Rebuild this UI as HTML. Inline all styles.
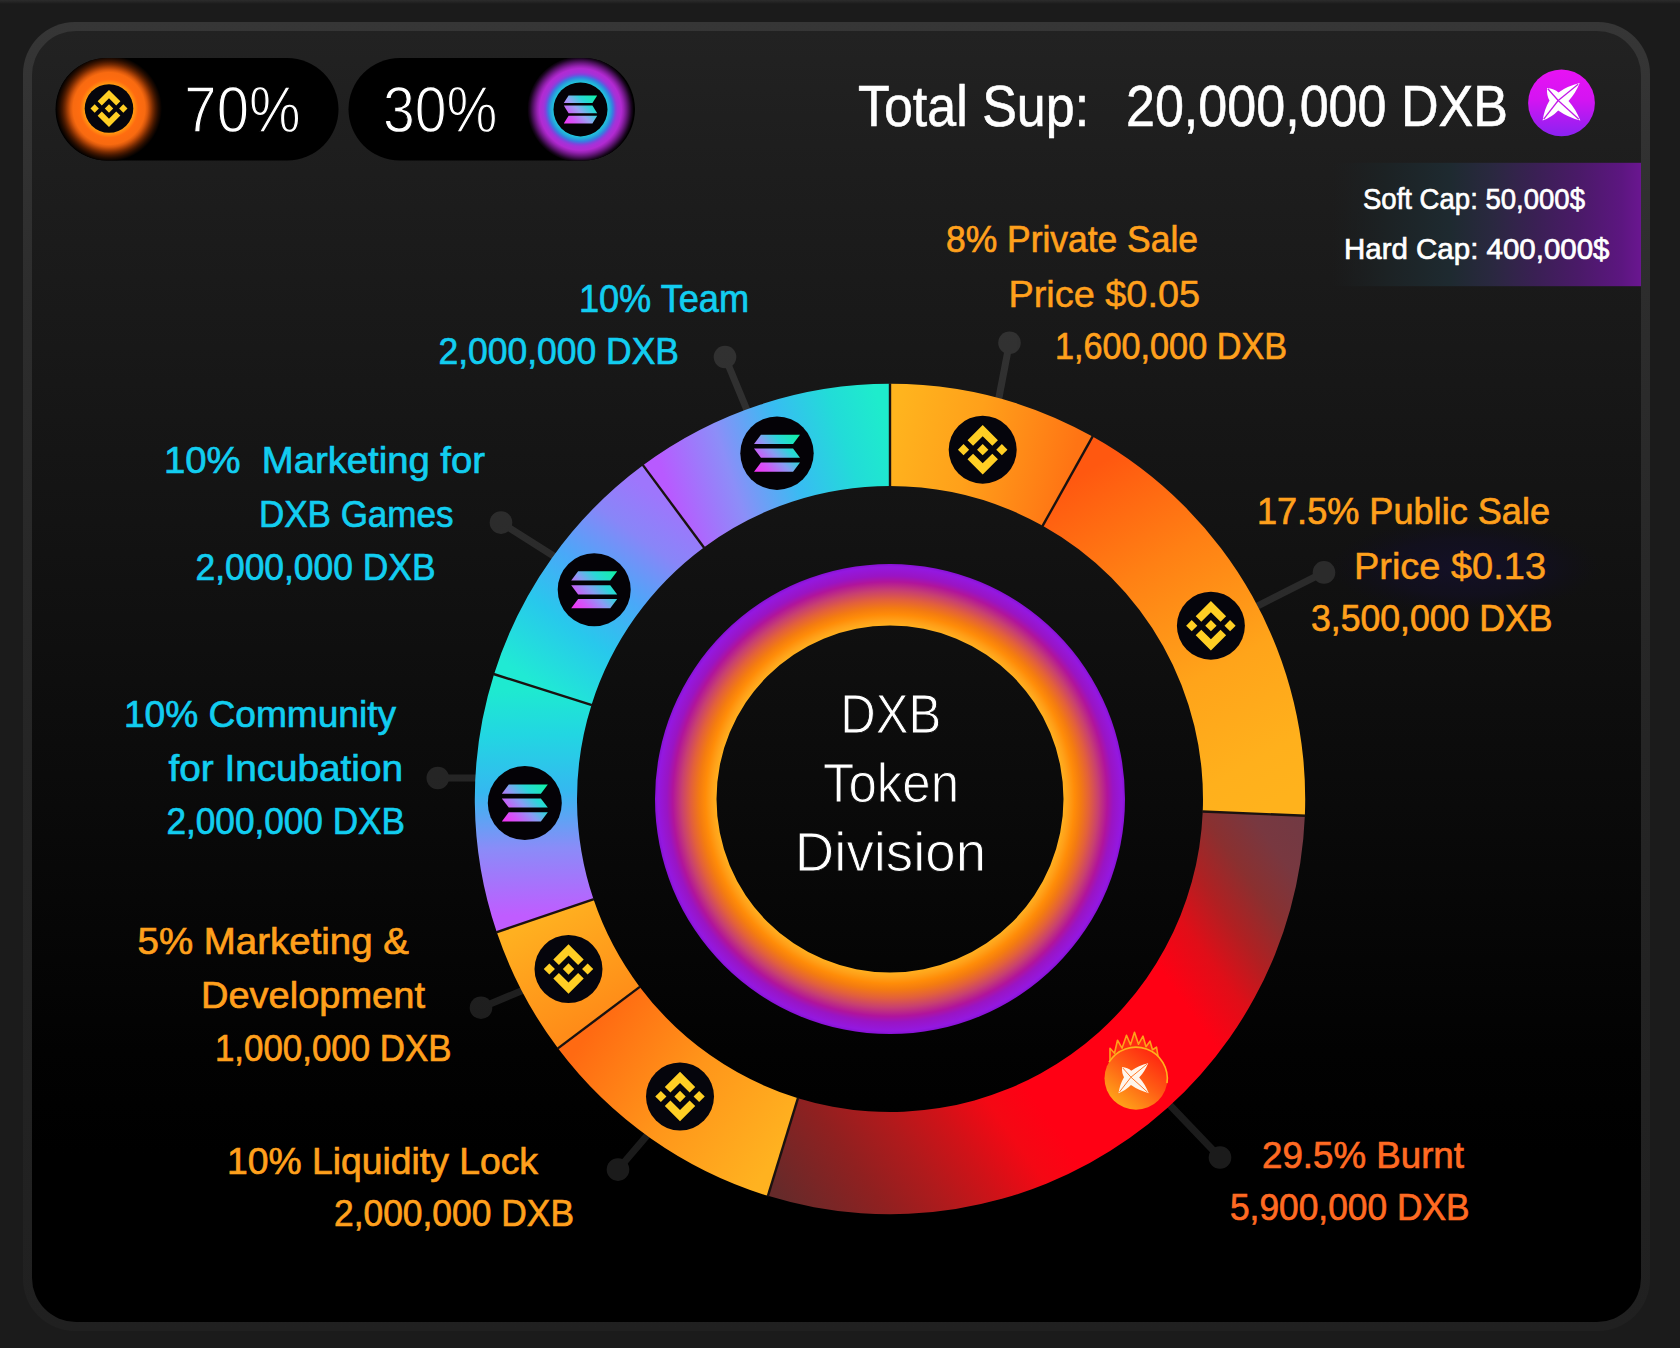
<!DOCTYPE html>
<html lang="en"><head><meta charset="utf-8"><title>DXB Token Division</title>
<style>
html,body{margin:0;padding:0}
body{width:1680px;height:1348px;overflow:hidden;position:relative;background:#1b1b1b;font-family:"Liberation Sans",Arial,sans-serif}
.top{position:absolute;left:0;top:0;width:1680px;height:4px;background:linear-gradient(#2c2c2c,#1b1b1b)}
.frame{position:absolute;left:23px;top:22px;width:1627px;height:1309px;border-radius:52px;background:linear-gradient(#363636 0%,#2d2d2d 20%,#252525 55%,#202020 100%)}
.panel{position:absolute;left:32px;top:31px;width:1609px;height:1291px;border-radius:44px;background:linear-gradient(#222 0%,#1d1d1d 11%,#131313 38%,#0a0a0a 60%,#020202 79%,#000 87%)}
svg{position:absolute;left:0;top:0}
text{font-family:"Liberation Sans",Arial,sans-serif;white-space:pre}
</style></head><body>
<div class="top"></div><div class="frame"></div><div class="panel"></div>
<svg width="1680" height="1348" viewBox="0 0 1680 1348">
<defs>
<linearGradient id="gpr" gradientUnits="userSpaceOnUse" x1="890" y1="434.9" x2="1067.63" y2="481.17"><stop offset="0" stop-color="#ffb41e"/><stop offset="0.45" stop-color="#ffa01a"/><stop offset="1" stop-color="#ff7414"/></linearGradient>
<linearGradient id="gpu" gradientUnits="userSpaceOnUse" x1="1067.63" y1="481.17" x2="1253.81" y2="813.61"><stop offset="0" stop-color="#ff5810"/><stop offset="0.3" stop-color="#ff8014"/><stop offset="0.62" stop-color="#ffa41a"/><stop offset="0.88" stop-color="#ffb01c"/><stop offset="1" stop-color="#ffb21c"/></linearGradient>
<linearGradient id="gbu" gradientUnits="userSpaceOnUse" x1="1347" y1="858" x2="813" y2="1242"><stop offset="0" stop-color="#703a44"/><stop offset="0.08" stop-color="#783840"/><stop offset="0.14" stop-color="#8a3030"/><stop offset="0.2" stop-color="#b02022"/><stop offset="0.26" stop-color="#e00e18"/><stop offset="0.33" stop-color="#ff0014"/><stop offset="0.6" stop-color="#ff0014"/><stop offset="0.66" stop-color="#f40814"/><stop offset="0.73" stop-color="#d01218"/><stop offset="0.8" stop-color="#b01a1c"/><stop offset="0.88" stop-color="#902020"/><stop offset="1" stop-color="#662a2a"/></linearGradient>
<linearGradient id="gli" gradientUnits="userSpaceOnUse" x1="782.94" y1="1147" x2="598.83" y2="1017.61"><stop offset="0" stop-color="#ffb220"/><stop offset="0.5" stop-color="#ff961a"/><stop offset="1" stop-color="#ff6a12"/></linearGradient>
<linearGradient id="gmd" gradientUnits="userSpaceOnUse" x1="598.83" y1="1017.61" x2="545.12" y2="915.74"><stop offset="0" stop-color="#ff8c18"/><stop offset="1" stop-color="#ffb020"/></linearGradient>
<linearGradient id="gco" gradientUnits="userSpaceOnUse" x1="545.12" y1="915.74" x2="542.75" y2="689.51"><stop offset="0" stop-color="#c05cff"/><stop offset="0.3" stop-color="#8a8cf8"/><stop offset="0.55" stop-color="#35b8f0"/><stop offset="0.8" stop-color="#22d6e2"/><stop offset="1" stop-color="#1eead0"/></linearGradient>
<linearGradient id="gmg" gradientUnits="userSpaceOnUse" x1="542.75" y1="689.51" x2="673.43" y2="506.32"><stop offset="0" stop-color="#20ead4"/><stop offset="0.3" stop-color="#28c8ec"/><stop offset="0.55" stop-color="#4aa8f8"/><stop offset="0.8" stop-color="#8886f8"/><stop offset="1" stop-color="#9e76fc"/></linearGradient>
<linearGradient id="gte" gradientUnits="userSpaceOnUse" x1="673.43" y1="506.32" x2="890" y2="434.9"><stop offset="0" stop-color="#b85aff"/><stop offset="0.28" stop-color="#8c8ef8"/><stop offset="0.55" stop-color="#38bcf2"/><stop offset="0.8" stop-color="#22dcd8"/><stop offset="1" stop-color="#1eeccc"/></linearGradient>
<radialGradient id="gring" gradientUnits="userSpaceOnUse" cx="890" cy="799" r="235.1"><stop offset="0.7367" stop-color="#ffb020"/><stop offset="0.7597" stop-color="#ffa018"/><stop offset="0.7848" stop-color="#ff8c08"/><stop offset="0.8103" stop-color="#f47c10"/><stop offset="0.8481" stop-color="#e2603c"/><stop offset="0.8860" stop-color="#c84070"/><stop offset="0.9243" stop-color="#b0149c"/><stop offset="0.9494" stop-color="#9a14c4"/><stop offset="0.9872" stop-color="#9418e0"/><stop offset="1.0000" stop-color="#8612d4"/></radialGradient>
<radialGradient id="gglowo" gradientUnits="userSpaceOnUse" cx="109" cy="108.5" r="53"><stop offset="0.453" stop-color="#ffa010"/><stop offset="0.49" stop-color="#ff8a10"/><stop offset="0.55" stop-color="#ff6c10"/><stop offset="0.68" stop-color="#f86a10"/><stop offset="0.73" stop-color="#d8580c"/><stop offset="0.78" stop-color="#a84006"/><stop offset="0.83" stop-color="#742a02"/><stop offset="0.88" stop-color="#481800"/><stop offset="0.93" stop-color="#240c00"/><stop offset="0.98" stop-color="#0a0300"/><stop offset="1" stop-color="#000"/></radialGradient>
<radialGradient id="gglowp" gradientUnits="userSpaceOnUse" cx="580.5" cy="109.4" r="53"><stop offset="0.51" stop-color="#22c4dc"/><stop offset="0.56" stop-color="#24a8dc"/><stop offset="0.61" stop-color="#3a7ae0"/><stop offset="0.66" stop-color="#8044dc"/><stop offset="0.7" stop-color="#a432d8"/><stop offset="0.77" stop-color="#b22ad2"/><stop offset="0.82" stop-color="#9422b0"/><stop offset="0.87" stop-color="#6c1882"/><stop offset="0.92" stop-color="#400e4e"/><stop offset="0.96" stop-color="#1c0622"/><stop offset="1" stop-color="#040004"/></radialGradient>
<linearGradient id="sg" gradientUnits="objectBoundingBox" x1="1" y1="0" x2="0" y2="1"><stop offset="0" stop-color="#14f1b0"/><stop offset="0.5" stop-color="#7aa0f0"/><stop offset="1" stop-color="#e63cf6"/></linearGradient>
<linearGradient id="sgs" gradientUnits="userSpaceOnUse" x1="15" y1="-14" x2="-15" y2="14"><stop offset="0" stop-color="#12f0a8"/><stop offset="0.3" stop-color="#2ad8d8"/><stop offset="0.55" stop-color="#9aa4f4"/><stop offset="0.8" stop-color="#d058f8"/><stop offset="1" stop-color="#f036f4"/></linearGradient>
<linearGradient id="sgu" gradientUnits="userSpaceOnUse" x1="20" y1="-18" x2="-20" y2="18"><stop offset="0" stop-color="#12f0a8"/><stop offset="0.3" stop-color="#2ad8d8"/><stop offset="0.55" stop-color="#8a9cf4"/><stop offset="0.8" stop-color="#d058f8"/><stop offset="1" stop-color="#f036f4"/></linearGradient>
<linearGradient id="gcap" gradientUnits="userSpaceOnUse" x1="1332" y1="0" x2="1641" y2="0"><stop offset="0" stop-color="#1c2022" stop-opacity="0"/><stop offset="0.174" stop-color="#1c2224"/><stop offset="0.382" stop-color="#1e2a30"/><stop offset="0.521" stop-color="#2a2840"/><stop offset="0.659" stop-color="#3a2054"/><stop offset="0.798" stop-color="#4a1a68"/><stop offset="0.937" stop-color="#5c1680"/><stop offset="1" stop-color="#6a1690"/></linearGradient>
<linearGradient id="gdxb" x1="0.5" y1="0" x2="0.5" y2="1"><stop offset="0" stop-color="#e812f4"/><stop offset="0.45" stop-color="#d414f2"/><stop offset="1" stop-color="#8a22f2"/></linearGradient>
<linearGradient id="gburn" x1="0.85" y1="0.1" x2="0.2" y2="0.95"><stop offset="0" stop-color="#ff2410"/><stop offset="0.45" stop-color="#ff5a14"/><stop offset="1" stop-color="#ffa81a"/></linearGradient>
<radialGradient id="gprice" cx="0.5" cy="0.5" r="0.5"><stop offset="0" stop-color="#14102a" stop-opacity="0.9"/><stop offset="0.6" stop-color="#120f24" stop-opacity="0.6"/><stop offset="1" stop-color="#100e1c" stop-opacity="0"/></radialGradient>
</defs>
<rect x="55.5" y="58" width="283" height="102.5" rx="51.25" fill="#000"/>
<rect x="348.5" y="58" width="286.5" height="102.5" rx="51.25" fill="#000"/>
<clipPath id="cp1"><rect x="55.5" y="58" width="283" height="102.5" rx="51.25"/></clipPath><clipPath id="cp2"><rect x="348.5" y="58" width="286.5" height="102.5" rx="51.25"/></clipPath>
<circle cx="109" cy="108.5" r="53" fill="url(#gglowo)" clip-path="url(#cp1)"/>
<circle cx="109" cy="108.5" r="24.3" fill="#05050c"/><g transform="translate(90.5 90) scale(0.2922)" fill="#ffcf24"><path d="m38.73 53.2 24.59-24.58 24.6 24.6 14.3-14.31-38.9-38.91-38.9 38.9z"/><path d="m0 63.31 14.3-14.31 14.31 14.31-14.31 14.3z"/><path d="m38.73 73.41 24.59 24.59 24.6-24.6 14.31 14.29-38.9 38.91-38.91-38.88z"/><path d="m98 63.31 14.3-14.31 14.31 14.3-14.31 14.32z"/><path d="m77.83 63.3-14.51-14.52-10.73 10.73-1.24 1.23-2.54 2.54 14.51 14.5 14.51-14.47z"/></g>
<circle cx="580.5" cy="109.4" r="53" fill="url(#gglowp)" clip-path="url(#cp2)"/>
<circle cx="580.5" cy="109.4" r="27" fill="#040206"/><g transform="translate(580.5 109.4)" fill="url(#sgs)"><path d="M-11.93 -14H16.7L11.93 -6.3H-16.7Z"/><path d="M-16.7 -3.85H11.93L16.7 3.85H-11.93Z"/><path d="M-11.93 6.3H16.7L11.93 14H-16.7Z"/></g>
<rect x="1332" y="162.8" width="309" height="123.4" fill="url(#gcap)"/>
<circle cx="1561.5" cy="102.9" r="33.4" fill="url(#gdxb)"/>
<g transform="translate(1561.5 102.9)"><path d="M-14.5 -15Q-7.11 -14.21 -3 -10.5Q6.22 -16.86 18.2 -19.8Q13.98 -9.19 7 -2Q14.43 6.22 18.9 17.7Q6.32 14.23 -3.3 7.5Q-9.36 13.95 -18.9 17.7Q-17.19 6.3 -12 -2.4Q-14.89 -7.24 -14.5 -15Z" fill="#fff"/><path d="M-3.3 -2.4L16.7 -18.58" stroke="#c418e8" stroke-width="1.25" fill="none"/><path d="M-3.3 -2.4L17.35 16.29" stroke="#c418e8" stroke-width="1.25" fill="none"/><path d="M-3.3 -2.4L-17.81 16.29" stroke="#c418e8" stroke-width="1.25" fill="none"/><path d="M-3.3 -2.4L-13.72 -14.12" stroke="#c418e8" stroke-width="1.25" fill="none"/></g>
<ellipse cx="1465" cy="567" rx="135" ry="48" fill="url(#gprice)"/>
<g opacity="0.105" fill="#fff" stroke="#fff" stroke-width="7"><path d="M1009.5 342.7L997.5 405"/><circle cx="1009.5" cy="342.7" r="11.3" stroke="none"/><path d="M1324 572.4L1250 609.8"/><circle cx="1324" cy="572.4" r="11.3" stroke="none"/><path d="M1220 1157.5L1165 1100"/><circle cx="1220" cy="1157.5" r="11.3" stroke="none"/><path d="M618 1169.6L650 1132"/><circle cx="618" cy="1169.6" r="11.3" stroke="none"/><path d="M481 1007.7L526 989"/><circle cx="481" cy="1007.7" r="11.3" stroke="none"/><path d="M437.8 778L485 778"/><circle cx="437.8" cy="778" r="11.3" stroke="none"/><path d="M501 522.6L556 557.5"/><circle cx="501" cy="522.6" r="11.3" stroke="none"/><path d="M725 357L749 415"/><circle cx="725" cy="357" r="11.3" stroke="none"/></g>
<path d="M890 383.8A415.2 415.2 0 0 1 1092.56 436.56L1042.7 525.78A313 313 0 0 0 890 486Z" fill="url(#gpr)"/>
<path d="M1092.56 436.56A415.2 415.2 0 0 1 1304.87 815.66L1202.75 811.56A313 313 0 0 0 1042.7 525.78Z" fill="url(#gpu)"/>
<path d="M1304.87 815.66A415.2 415.2 0 0 1 767.91 1195.85L797.97 1098.16A313 313 0 0 0 1202.75 811.56Z" fill="url(#gbu)"/>
<path d="M767.91 1195.85A415.2 415.2 0 0 1 557.97 1048.29L639.7 986.93A313 313 0 0 0 797.97 1098.16Z" fill="url(#gli)"/>
<path d="M557.97 1048.29A415.2 415.2 0 0 1 496.72 932.12L593.52 899.35A313 313 0 0 0 639.7 986.93Z" fill="url(#gmd)"/>
<path d="M496.72 932.12A415.2 415.2 0 0 1 494.02 674.15L591.49 704.88A313 313 0 0 0 593.52 899.35Z" fill="url(#gco)"/>
<path d="M494.02 674.15A415.2 415.2 0 0 1 643.03 465.24L703.82 547.39A313 313 0 0 0 591.49 704.88Z" fill="url(#gmg)"/>
<path d="M643.03 465.24A415.2 415.2 0 0 1 890 383.8L890 486A313 313 0 0 0 703.82 547.39Z" fill="url(#gte)"/>
<g stroke="#1a1210" stroke-width="2.4" fill="none"><path d="M890 383.3L890 486.5"/><path d="M1092.8 436.13L1042.46 526.21"/><path d="M1305.37 815.68L1202.25 811.54"/><path d="M767.77 1196.32L798.11 1097.69"/><path d="M557.57 1048.59L640.1 986.63"/><path d="M496.24 932.28L594 899.19"/><path d="M493.54 674L591.96 705.03"/><path d="M642.73 464.84L704.12 547.79"/></g>
<path fill-rule="evenodd" fill="url(#gring)" d="M655 799a235.0 235.0 0 1 0 470.0 0a235.0 235.0 0 1 0 -470.0 0ZM716.5 799a173.5 173.5 0 1 0 347.0 0a173.5 173.5 0 1 0 -347.0 0Z"/>
<circle cx="982.7" cy="449.7" r="34" fill="#05050c"/><g transform="translate(957.95 424.95) scale(0.3910)" fill="#ffcf24"><path d="m38.73 53.2 24.59-24.58 24.6 24.6 14.3-14.31-38.9-38.91-38.9 38.9z"/><path d="m0 63.31 14.3-14.31 14.31 14.31-14.31 14.3z"/><path d="m38.73 73.41 24.59 24.59 24.6-24.6 14.31 14.29-38.9 38.91-38.91-38.88z"/><path d="m98 63.31 14.3-14.31 14.31 14.3-14.31 14.32z"/><path d="m77.83 63.3-14.51-14.52-10.73 10.73-1.24 1.23-2.54 2.54 14.51 14.5 14.51-14.47z"/></g>
<circle cx="1210.9" cy="625.7" r="34" fill="#05050c"/><g transform="translate(1186.15 600.95) scale(0.3910)" fill="#ffcf24"><path d="m38.73 53.2 24.59-24.58 24.6 24.6 14.3-14.31-38.9-38.91-38.9 38.9z"/><path d="m0 63.31 14.3-14.31 14.31 14.31-14.31 14.3z"/><path d="m38.73 73.41 24.59 24.59 24.6-24.6 14.31 14.29-38.9 38.91-38.91-38.88z"/><path d="m98 63.31 14.3-14.31 14.31 14.3-14.31 14.32z"/><path d="m77.83 63.3-14.51-14.52-10.73 10.73-1.24 1.23-2.54 2.54 14.51 14.5 14.51-14.47z"/></g>
<circle cx="568.5" cy="969" r="34" fill="#05050c"/><g transform="translate(543.75 944.25) scale(0.3910)" fill="#ffcf24"><path d="m38.73 53.2 24.59-24.58 24.6 24.6 14.3-14.31-38.9-38.91-38.9 38.9z"/><path d="m0 63.31 14.3-14.31 14.31 14.31-14.31 14.3z"/><path d="m38.73 73.41 24.59 24.59 24.6-24.6 14.31 14.29-38.9 38.91-38.91-38.88z"/><path d="m98 63.31 14.3-14.31 14.31 14.3-14.31 14.32z"/><path d="m77.83 63.3-14.51-14.52-10.73 10.73-1.24 1.23-2.54 2.54 14.51 14.5 14.51-14.47z"/></g>
<circle cx="680" cy="1096.5" r="34" fill="#05050c"/><g transform="translate(655.25 1071.75) scale(0.3910)" fill="#ffcf24"><path d="m38.73 53.2 24.59-24.58 24.6 24.6 14.3-14.31-38.9-38.91-38.9 38.9z"/><path d="m0 63.31 14.3-14.31 14.31 14.31-14.31 14.3z"/><path d="m38.73 73.41 24.59 24.59 24.6-24.6 14.31 14.29-38.9 38.91-38.91-38.88z"/><path d="m98 63.31 14.3-14.31 14.31 14.3-14.31 14.32z"/><path d="m77.83 63.3-14.51-14.52-10.73 10.73-1.24 1.23-2.54 2.54 14.51 14.5 14.51-14.47z"/></g>
<circle cx="777" cy="453.2" r="36.7" fill="#040206"/><g transform="translate(777 453.2)" fill="url(#sgu)"><path d="M-16.06 -18.5H23L16.06 -9.25H-23Z"/><path d="M-23 -4.62H16.06L23 4.62H-16.06Z"/><path d="M-16.06 9.25H23L16.06 18.5H-23Z"/></g>
<circle cx="594.2" cy="589.8" r="36.5" fill="#040206"/><g transform="translate(594.2 589.8)" fill="url(#sgu)"><path d="M-16.06 -18.5H23L16.06 -9.25H-23Z"/><path d="M-23 -4.62H16.06L23 4.62H-16.06Z"/><path d="M-16.06 9.25H23L16.06 18.5H-23Z"/></g>
<circle cx="524.8" cy="803" r="37" fill="#040206"/><g transform="translate(524.8 803)" fill="url(#sgu)"><path d="M-16.06 -18.5H23L16.06 -9.25H-23Z"/><path d="M-23 -4.62H16.06L23 4.62H-16.06Z"/><path d="M-16.06 9.25H23L16.06 18.5H-23Z"/></g>
<g transform="translate(1136 1078.2)"><path d="M-26 -17L-26 -30L-21.5 -25L-18.5 -38L-14 -30L-9.5 -43L-5.5 -33.5L-1.5 -46L2.5 -34L7 -42L10 -31.5L14 -37L16.5 -28.5L20.5 -31L22 -22" fill="#ff5a12" fill-opacity="0.5" stroke="#ffa01a" stroke-width="1.6" stroke-linejoin="round"/><circle cx="0" cy="0" r="31.5" fill="url(#gburn)"/><path d="M-27 -16A31.5 31.5 0 0 1 31 5" fill="none" stroke="#ffb21c" stroke-width="1.6"/></g>
<g transform="translate(1133.6 1079.1)"><path d="M-11.6 -12Q-5.68 -11.37 -2.4 -8.4Q4.97 -13.49 14.56 -15.84Q11.19 -7.35 5.6 -1.6Q11.54 4.98 15.12 14.16Q5.06 11.38 -2.64 6Q-7.49 11.16 -15.12 14.16Q-13.75 5.04 -9.6 -1.92Q-11.92 -5.79 -11.6 -12Z" fill="#fff6ec"/><path d="M-2.64 -1.92L13.36 -14.87" stroke="#ff7a2a" stroke-width="1" fill="none"/><path d="M-2.64 -1.92L13.88 13.03" stroke="#ff7a2a" stroke-width="1" fill="none"/><path d="M-2.64 -1.92L-14.25 13.03" stroke="#ff7a2a" stroke-width="1" fill="none"/><path d="M-2.64 -1.92L-10.97 -11.29" stroke="#ff7a2a" stroke-width="1" fill="none"/></g>
<text id="t70" x="184.37" y="132.4" font-size="65" fill="#ffffff" stroke="#000" stroke-width="1.3" textLength="116.21" lengthAdjust="spacingAndGlyphs" xml:space="preserve">70%</text>
<text id="t30" x="382.92" y="132.4" font-size="65" fill="#ffffff" stroke="#000" stroke-width="1.3" textLength="114.63" lengthAdjust="spacingAndGlyphs" xml:space="preserve">30%</text>
<text id="tts" x="857.98" y="125.5" font-size="57.5" fill="#ffffff" stroke="#fff" stroke-width="0.6" textLength="231.11" lengthAdjust="spacingAndGlyphs" xml:space="preserve">Total Sup:</text>
<text id="ttn" x="1125.97" y="125.5" font-size="57.5" fill="#ffffff" stroke="#fff" stroke-width="0.6" textLength="382.07" lengthAdjust="spacingAndGlyphs" xml:space="preserve">20,000,000 DXB</text>
<text id="tsc" x="1362.99" y="209" font-size="29.5" fill="#ffffff" stroke="#ffffff" stroke-width="0.7" textLength="222.02" lengthAdjust="spacingAndGlyphs" xml:space="preserve">Soft Cap: 50,000$</text>
<text id="thc" x="1343.99" y="258.7" font-size="29.5" fill="#ffffff" stroke="#ffffff" stroke-width="0.7" textLength="265.51" lengthAdjust="spacingAndGlyphs" xml:space="preserve">Hard Cap: 400,000$</text>
<text id="tp1" x="945.99" y="252.4" font-size="37.5" fill="#ffa01c" stroke="#ffa01c" stroke-width="0.7" textLength="252.04" lengthAdjust="spacingAndGlyphs" xml:space="preserve">8% Private Sale</text>
<text id="tp2" x="1008.44" y="306.9" font-size="37" fill="#ffa01c" stroke="#ffa01c" stroke-width="0.5" textLength="191.6" lengthAdjust="spacingAndGlyphs" xml:space="preserve">Price $0.05</text>
<text id="tp3" x="1054.96" y="359.2" font-size="37.5" fill="#ffa01c" stroke="#ffa01c" stroke-width="0.7" textLength="232.07" lengthAdjust="spacingAndGlyphs" xml:space="preserve">1,600,000 DXB</text>
<text id="tt1" x="578.89" y="312" font-size="38" fill="#12cdf0" stroke="#12cdf0" stroke-width="0.7" textLength="170.18" lengthAdjust="spacingAndGlyphs" xml:space="preserve">10% Team</text>
<text id="tt2" x="438.47" y="364.3" font-size="37.5" fill="#12cdf0" stroke="#12cdf0" stroke-width="0.7" textLength="240.55" lengthAdjust="spacingAndGlyphs" xml:space="preserve">2,000,000 DXB</text>
<text id="tm1" x="163.96" y="473" font-size="37.5" fill="#12cdf0" stroke="#12cdf0" stroke-width="0.7" textLength="321.04" lengthAdjust="spacingAndGlyphs" xml:space="preserve">10%  Marketing for</text>
<text id="tm2" x="258.92" y="526.5" font-size="37.5" fill="#12cdf0" stroke="#12cdf0" stroke-width="0.7" textLength="194.59" lengthAdjust="spacingAndGlyphs" xml:space="preserve">DXB Games</text>
<text id="tm3" x="195.48" y="580" font-size="37.5" fill="#12cdf0" stroke="#12cdf0" stroke-width="0.7" textLength="240.05" lengthAdjust="spacingAndGlyphs" xml:space="preserve">2,000,000 DXB</text>
<text id="tc1" x="123.98" y="727.4" font-size="37.5" fill="#12cdf0" stroke="#12cdf0" stroke-width="0.7" textLength="272.02" lengthAdjust="spacingAndGlyphs" xml:space="preserve">10% Community</text>
<text id="tc2" x="168.49" y="781" font-size="37.5" fill="#12cdf0" stroke="#12cdf0" stroke-width="0.7" textLength="234.54" lengthAdjust="spacingAndGlyphs" xml:space="preserve">for Incubation</text>
<text id="tc3" x="166.48" y="833.6" font-size="37.5" fill="#12cdf0" stroke="#12cdf0" stroke-width="0.7" textLength="238.55" lengthAdjust="spacingAndGlyphs" xml:space="preserve">2,000,000 DXB</text>
<text id="td1" x="137.49" y="954" font-size="37.5" fill="#ffa01c" stroke="#ffa01c" stroke-width="0.7" textLength="271.51" lengthAdjust="spacingAndGlyphs" xml:space="preserve">5% Marketing &amp;</text>
<text id="td2" x="200.94" y="1007.7" font-size="37.5" fill="#ffa01c" stroke="#ffa01c" stroke-width="0.7" textLength="224.06" lengthAdjust="spacingAndGlyphs" xml:space="preserve">Development</text>
<text id="td3" x="214.96" y="1061" font-size="37.5" fill="#ffa01c" stroke="#ffa01c" stroke-width="0.7" textLength="236.57" lengthAdjust="spacingAndGlyphs" xml:space="preserve">1,000,000 DXB</text>
<text id="tl1" x="226.98" y="1173.5" font-size="37.5" fill="#ffa01c" stroke="#ffa01c" stroke-width="0.7" textLength="311.02" lengthAdjust="spacingAndGlyphs" xml:space="preserve">10% Liquidity Lock</text>
<text id="tl2" x="333.98" y="1226" font-size="37.5" fill="#ffa01c" stroke="#ffa01c" stroke-width="0.7" textLength="240.05" lengthAdjust="spacingAndGlyphs" xml:space="preserve">2,000,000 DXB</text>
<text id="tu1" x="1256.96" y="524" font-size="37.5" fill="#ffa01c" stroke="#ffa01c" stroke-width="0.7" textLength="293.06" lengthAdjust="spacingAndGlyphs" xml:space="preserve">17.5% Public Sale</text>
<text id="tu2" x="1353.93" y="579.3" font-size="37" fill="#ffa01c" stroke="#ffa01c" stroke-width="0.5" textLength="192.12" lengthAdjust="spacingAndGlyphs" xml:space="preserve">Price $0.13</text>
<text id="tu3" x="1310.98" y="630.5" font-size="37.5" fill="#ffa01c" stroke="#ffa01c" stroke-width="0.7" textLength="241.54" lengthAdjust="spacingAndGlyphs" xml:space="preserve">3,500,000 DXB</text>
<text id="tb1" x="1261.98" y="1167.5" font-size="37.5" fill="#ff6a22" stroke="#ff6a22" stroke-width="0.7" textLength="202.02" lengthAdjust="spacingAndGlyphs" xml:space="preserve">29.5% Burnt</text>
<text id="tb2" x="1229.98" y="1220" font-size="37.5" fill="#ff6a22" stroke="#ff6a22" stroke-width="0.7" textLength="239.55" lengthAdjust="spacingAndGlyphs" xml:space="preserve">5,900,000 DXB</text>
<text id="tx1" x="840.22" y="732.5" font-size="55" fill="#ffffff" stroke="#0b0b0b" stroke-width="1.0" textLength="100.95" lengthAdjust="spacingAndGlyphs" xml:space="preserve">DXB</text>
<text id="tx2" x="822.97" y="802" font-size="55" fill="#ffffff" stroke="#0b0b0b" stroke-width="1.0" textLength="136.12" lengthAdjust="spacingAndGlyphs" xml:space="preserve">Token</text>
<text id="tx3" x="794.83" y="870.6" font-size="55" fill="#ffffff" stroke="#0b0b0b" stroke-width="1.0" textLength="191.27" lengthAdjust="spacingAndGlyphs" xml:space="preserve">Division</text>
</svg>
</body></html>
